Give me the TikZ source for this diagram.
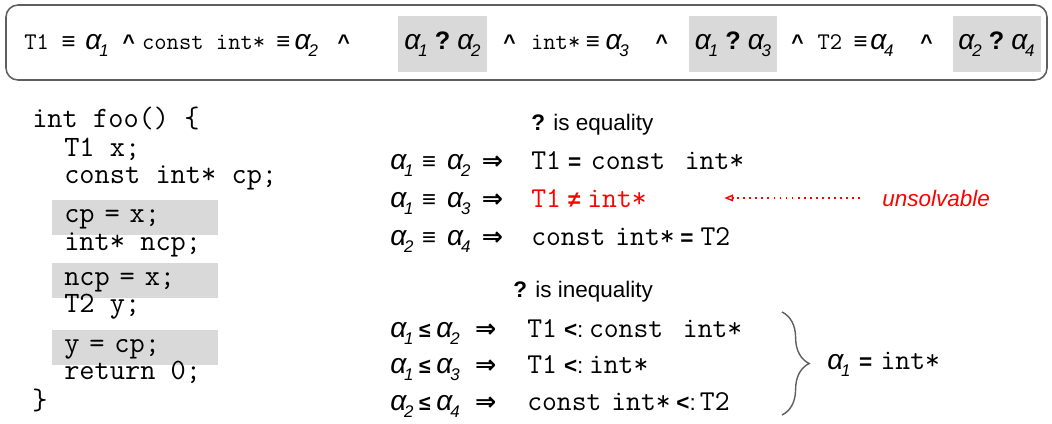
\documentclass[tikz,border=0pt]{standalone}
\usepackage{fontspec}
\setmainfont{Liberation Sans}
\newfontfamily\arrowfont{DejaVu Sans}
\usepackage{tikz}
\usetikzlibrary{arrows.meta,positioning,calc,decorations.pathreplacing}
\definecolor{shade}{HTML}{D9D9D9}
\definecolor{framegray}{HTML}{5F5F5F}
\definecolor{alert}{HTML}{FF0000}

\newcommand{\alp}[1]{{\fontsize{20}{20}\selectfont\itshape α\kern-1.5pt\raisebox{-5.5pt}{\fontsize{12}{12}\selectfont #1}}}
\newcommand{\idn}{{\fontsize{17}{17}\selectfont\bfseries ≡}}
\newcommand{\leqn}{{\fontsize{15}{15}\selectfont\bfseries ≤}}
\newcommand{\neqn}{{\fontsize{16}{16}\selectfont\bfseries ≠}}
\newcommand{\eqn}{{\fontsize{16}{16}\selectfont\bfseries =}}
\newcommand{\impl}{{\arrowfont\fontsize{18}{18}\selectfont\bfseries ⇒}}
\newcommand{\andc}{{\fontsize{15}{15}\selectfont\bfseries\textasciicircum}}
\newcommand{\qm}{{\fontsize{18}{18}\selectfont\bfseries ?}}
\newcommand{\subt}{{\fontsize{16}{16}\selectfont{\bfseries <}:}}
\newcommand{\topmono}[1]{{\fontsize{17}{17}\selectfont\ttfamily #1}}
\newcommand{\eqmono}[1]{{\fontsize{20.5}{20.5}\selectfont\ttfamily #1}}

\begin{document}
\begin{tikzpicture}[x=0.025cm,y=-0.025cm,
  every node/.style={inner sep=0pt},
  seg/.style={anchor=base west},
  cmpbox/.style={fill=shade,anchor=base,minimum width=2.2cm,text height=23.5pt,text depth=16.4pt},
  code/.style={anchor=base west,font=\fontsize{21}{21}\selectfont\ttfamily},
  codehl/.style={code,fill=shade,text width=3.55cm,align=left,inner xsep=0.3cm,text height=15.5pt,text depth=9.2pt},
  eqline/.style={anchor=base west},
  caption/.style={anchor=base west,font=\fontsize{16}{16}\selectfont}]
\useasboundingbox (0,0) rectangle (1052,423);

% constraint conjunction
\draw[framegray,line width=1.1pt,rounded corners=0.3cm] (6,5) rectangle (1047,80);
\node[seg] (seg1) at (24,49) {\topmono{T1}\hspace{9pt}\idn\hspace{7pt}\alp{1}\hspace{10pt}\andc\hspace{5pt}\topmono{const int*}\hspace{8pt}\idn\hspace{3pt}\alp{2}\hspace{14pt}\andc};
\node[cmpbox] (cmp12) at (442.5,49) {\alp{1}\hspace{5pt}\qm\hspace{5pt}\alp{2}};
\node[seg] (seg2) at (503,49) {\andc\hspace{11pt}\topmono{int*}\hspace{4pt}\idn\hspace{4pt}\alp{3}\hspace{19pt}\andc};
\node[cmpbox] (cmp13) at (733,49) {\alp{1}\hspace{5pt}\qm\hspace{5pt}\alp{3}};
\node[seg] (seg3) at (791,49) {\andc\hspace{10pt}\topmono{T2}\hspace{8pt}\idn\hspace{2pt}\alp{4}\hspace{19pt}\andc};
\node[cmpbox] (cmp24) at (996.5,49) {\alp{2}\hspace{5pt}\qm\hspace{5pt}\alp{4}};

% program
\node[code] (l1) at (32,127) {int foo() \{};
\node[code] (l2) at (64,156) {T1 x;};
\node[code] (l3) at (64,183) {const int* cp;};
\node[codehl] (l4) at (52,222) {cp = x;};
\node[code] (l5) at (64,250) {int* ncp;};
\node[codehl] (l6) at (52,285) {ncp = x;};
\node[code] (l7) at (64,312) {T2 y;};
\node[codehl] (l8) at (52,352) {y = cp;};
\node[code] (l9) at (64,379) {return 0;};
\node[code] (l10) at (32,409) {\}};

% ? is equality
\node[caption] (eqcap) at (531,130) {{\bfseries ?} is equality};
\node[eqline] (eq1l) at (390,169) {\alp{1}\hspace{6pt}\idn\hspace{8pt}\alp{2}\hspace{8pt}\impl};
\node[eqline] (eq1r) at (531,169) {\eqmono{T1}\hspace{5pt}\eqn\hspace{7pt}\eqmono{const}\hspace{14pt}\eqmono{int*}};
\node[eqline] (eq2l) at (390,207) {\alp{1}\hspace{6pt}\idn\hspace{8pt}\alp{3}\hspace{8pt}\impl};
\node[eqline,text=alert] (eq2r) at (531,207) {\eqmono{T1}\hspace{5pt}\neqn\hspace{5pt}\eqmono{int*}};
\node[eqline] (eq3l) at (390,245) {\alp{2}\hspace{6pt}\idn\hspace{8pt}\alp{4}\hspace{8pt}\impl};
\node[eqline] (eq3r) at (531,245) {\eqmono{const}\hspace{7pt}\eqmono{int*}\hspace{4pt}\eqn\hspace{5pt}\eqmono{T2}};
\node[caption,text=alert,font=\fontsize{16}{16}\selectfont\itshape] (unsolv) at (882,206) {unsolvable};
\draw[alert,line width=1.2pt,dash pattern=on 1.3pt off 3pt,shorten <=0.55cm,shorten >=1.93cm,
  -{Triangle[open,length=0.22cm,width=0.17cm,line width=1pt]}] (unsolv.west) -- (unsolv.west -| eq2r.east);

% ? is inequality
\node[caption] (ineqcap) at (513,297) {{\bfseries ?} is inequality};
\node[eqline] (in1l) at (390,337) {\alp{1}\hspace{4pt}\leqn\hspace{4pt}\alp{2}\hspace{11pt}\impl};
\node[eqline] (in1r) at (527,337) {\eqmono{T1}\hspace{5pt}\subt\hspace{4pt}\eqmono{const}\hspace{14pt}\eqmono{int*}};
\node[eqline] (in2l) at (390,373) {\alp{1}\hspace{4pt}\leqn\hspace{4pt}\alp{3}\hspace{11pt}\impl};
\node[eqline] (in2r) at (527,373) {\eqmono{T1}\hspace{5pt}\subt\hspace{4pt}\eqmono{int*}};
\node[eqline] (in3l) at (390,410) {\alp{2}\hspace{4pt}\leqn\hspace{4pt}\alp{4}\hspace{11pt}\impl};
\node[eqline] (in3r) at (527,410) {\eqmono{const}\hspace{7pt}\eqmono{int*}\hspace{4pt}\subt\hspace{3pt}\eqmono{T2}};
\coordinate (bracetop) at (782,312);
\coordinate (bracebot) at (782,415);
\draw[framegray,line width=1pt,decorate,decoration={brace,amplitude=0.68cm}] (bracetop) -- (bracebot);
\node[eqline] (result) at (827,369) {\alp{1}\hspace{6pt}\eqn\hspace{6pt}\eqmono{int*}};
\end{tikzpicture}
\end{document}
